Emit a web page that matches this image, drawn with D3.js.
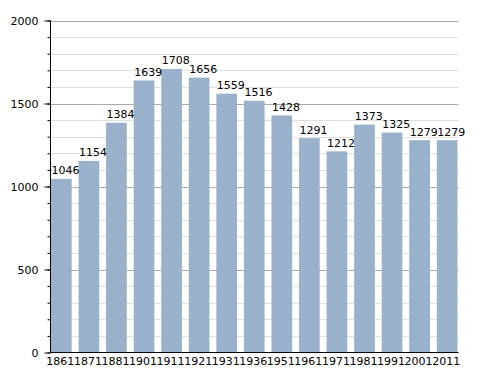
<!DOCTYPE html>
<html>
<head>
<meta charset="utf-8">
<script src="https://cdn.jsdelivr.net/npm/d3@7"></script>
<style>
  body { margin: 0; background: #fff; }
  text { font-family: "DejaVu Sans", sans-serif; font-size: 11px; fill: #000; }
</style>
</head>
<body>
<svg id="chart" width="488" height="373"></svg>
<script>
// population by census year
let years = ['1861', '1871', '1881', '1901', '1911', '1921', '1931', '1936', '1951', '1961', '1971', '1981', '1991', '2001', '2011']
let population = [1046, 1154, 1384, 1639, 1708, 1656, 1559, 1516, 1428, 1291, 1212, 1373, 1325, 1279, 1279]
let yTicks = [0, 500, 1000, 1500, 2000]

let plotLeft = 50.5, plotRight = 458.5, plotTop = 20.5, plotBottom = 352.5

let svg = d3.select('#chart')

let x = d3.scaleBand()
  .domain(years)
  .range([51, 457.5])
  .paddingInner(0.25)
  .paddingOuter(0)

let y = d3.scaleLinear()
  .domain([0, 2000])
  .range([plotBottom, plotTop])

// minor grid every 100
let minor = d3.range(100, 2000, 100).filter(d => d % 500 !== 0)
svg.append('g').selectAll('line')
  .data(minor)
  .enter()
  .append('line')
  .attr('x1', plotLeft).attr('x2', plotRight)
  .attr('y1', d => Math.round(y(d)) + 0.5).attr('y2', d => Math.round(y(d)) + 0.5)
  .attr('stroke', '#e0e0e0')

// major grid
svg.append('g').selectAll('line')
  .data(yTicks.filter(d => d > 0))
  .enter()
  .append('line')
  .attr('x1', plotLeft).attr('x2', plotRight)
  .attr('y1', d => Math.round(y(d)) + 0.5).attr('y2', d => Math.round(y(d)) + 0.5)
  .attr('stroke', '#aaaaaa')

// bars
svg.append('g').selectAll('rect')
  .data(population)
  .enter()
  .append('rect')
  .attr('x', (d, i) => x(years[i]))
  .attr('width', x.bandwidth())
  .attr('y', d => y(d))
  .attr('height', d => plotBottom - y(d))
  .attr('fill', '#99b1cb')

// value labels, start at left edge of the bar
svg.append('g').selectAll('text')
  .data(population)
  .enter()
  .append('text')
  .text(d => d)
  .attr('x', (d, i) => x(years[i]) + 0.5)
  .attr('y', d => y(d) - 4.5)

// y axis with minor ticks
let yAxisMinor = d3.axisLeft(y).tickValues(d3.range(0, 2001, 100)).tickSize(3).tickFormat('')
svg.append('g')
  .attr('transform', `translate(${plotLeft},0)`)
  .call(yAxisMinor)
  .call(g => g.select('.domain').remove())

let yAxis = d3.axisLeft(y).tickValues(yTicks).tickSize(6).tickPadding(6).tickFormat(d3.format('d'))
svg.append('g')
  .attr('transform', `translate(${plotLeft},0)`)
  .call(yAxis)
  .call(g => g.select('.domain').attr('d', `M0,${plotTop}V${plotBottom}`))
  .call(g => g.selectAll('text').style('font-size', '11px').style('font-family', '"DejaVu Sans", sans-serif'))

// x axis
let xAxis = d3.axisBottom(x).tickSize(0).tickPadding(5)
svg.append('g')
  .attr('transform', `translate(-1,${plotBottom})`)
  .call(xAxis)
  .call(g => g.select('.domain').attr('d', `M${plotLeft + 1},0H${plotRight + 1}`))
  .call(g => g.selectAll('text').style('font-size', '11px').style('font-family', '"DejaVu Sans", sans-serif'))
</script>
</body>
</html>
